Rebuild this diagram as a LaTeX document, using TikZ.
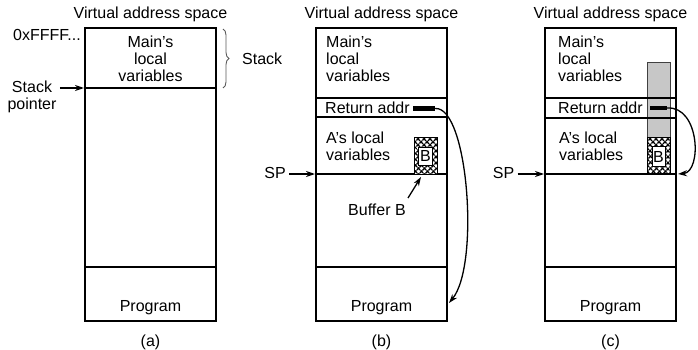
\documentclass[tikz,border=0pt]{standalone}
\usepackage{fontspec}
\setmainfont{Liberation Sans}
\usetikzlibrary{arrows.meta,decorations.pathreplacing,patterns.meta}

\begin{document}
\begin{tikzpicture}[x=1pt,y=-1pt,font=\fontsize{16}{17}\selectfont,
	frame/.style={draw=black,line width=1.4pt},
	arr/.style={-{Stealth[length=9pt,width=6pt]},line width=1.3pt},
	lbl/.style={anchor=west,align=left,inner sep=0pt},
	retbar/.style={fill=black,inner sep=0pt,minimum height=4.5pt},
	bufb/.style={draw=black,fill=white,inner sep=0pt,line width=0.8pt}]
	\useasboundingbox (0,0) rectangle (698,350);

	\foreach \px/\c in {85/a,316/b,545/c}{
		\draw[frame] (\px,28) rectangle +(131,293);
		\draw[frame] (\px,267) -- +(131,0);
		\node (title-\c) at (\px+65.5,14) {Virtual address space};
		\node (prog-\c) at (\px+65.5,308) {Program};
		\node (cap-\c) at (\px+65.5,342) {(\c)};
	}

	% (a)
	\draw[frame] (85,88) -- (216,88);
	\node[align=center] (main-a) at (150.5,59) {Main's\\local\\variables};
	\node[anchor=east,inner sep=0pt] (top-a) at (81,35) {0xFFFF...};
	\node[align=center] (spl-a) at (32,97) {Stack\\pointer};
	\coordinate (sp-a) at (84,88);
	\draw[arr] (spl-a.east |- sp-a) -- (sp-a);
	\draw[decorate,decoration={brace,amplitude=6pt},draw=black!65,line width=0.9pt] (223,29) -- (223,88);
	\node[lbl] (stk-a) at (242,59) {Stack};

	% (b)
	\draw[frame] (316,98) -- (447,98) (316,117) -- (447,117) (316,174) -- (447,174);
	\node[lbl] (main-b) at (326,59) {Main's\\local\\variables};
	\node[lbl] (ret-lbl-b) at (325,107.5) {Return addr};
	\node[lbl] (loc-b) at (326,146) {A's local\\variables};
	\fill[white] (414,137) rectangle (437,174);
	\fill[pattern={Lines[angle=45,distance=4pt,line width=1.5pt]}] (414,137) rectangle (437,174);
	\fill[pattern={Lines[angle=-45,distance=4pt,line width=1.5pt]}] (414,137) rectangle (437,174);
	\draw[line width=0.9pt] (414,137) rectangle (437,174);
	\node[bufb,minimum width=14pt,minimum height=18pt] (buf-b) at (425.5,156) {B};
	\node (bufl-b) at (377,210) {Buffer B};
	\coordinate (buft-b) at (408,198);
	\coordinate (bufh-b) at (421,177);
	\draw[arr] (buft-b) -- (bufh-b);
	\node[retbar,minimum width=22pt] (ret-b) at (424,108.5) {};
	\coordinate (prg-b) at (449,303);
	\draw[arr] (ret-b.east) .. controls (468,106) and (480,265) .. (prg-b);
	\node (spl-b) at (275,173) {SP};
	\coordinate (sp-b) at (315,174);
	\draw[arr] (spl-b.east |- sp-b) -- (sp-b);

	% (c)
	\draw[fill=black!22,draw=black!75,line width=0.9pt] (647,62) rectangle (670,137);
	\fill[white] (647,137) rectangle (670,174);
	\fill[pattern={Lines[angle=45,distance=4pt,line width=1.5pt]}] (647,137) rectangle (670,174);
	\fill[pattern={Lines[angle=-45,distance=4pt,line width=1.5pt]}] (647,137) rectangle (670,174);
	\draw[line width=0.9pt] (647,137) rectangle (670,174);
	\draw[frame] (545,98) -- (676,98) (545,118) -- (676,118) (545,174) -- (676,174);
	\node[bufb,minimum width=13pt,minimum height=20pt] (buf-c) at (658.5,156.5) {B};
	\node[lbl] (main-c) at (558,59) {Main's\\local\\variables};
	\node[lbl] (ret-lbl-c) at (558,108) {Return addr};
	\node[lbl] (loc-c) at (559,146.5) {A's local\\variables};
	\node[retbar,minimum width=17pt] (ret-c) at (658.5,108) {};
	\coordinate (spr-c) at (678,174);
	\draw[arr] (ret-c.east) .. controls (700,106) and (702,172) .. (spr-c);
	\node (spl-c) at (503.5,173) {SP};
	\coordinate (sp-c) at (544,174);
	\draw[arr] (spl-c.east |- sp-c) -- (sp-c);
\end{tikzpicture}
\end{document}
